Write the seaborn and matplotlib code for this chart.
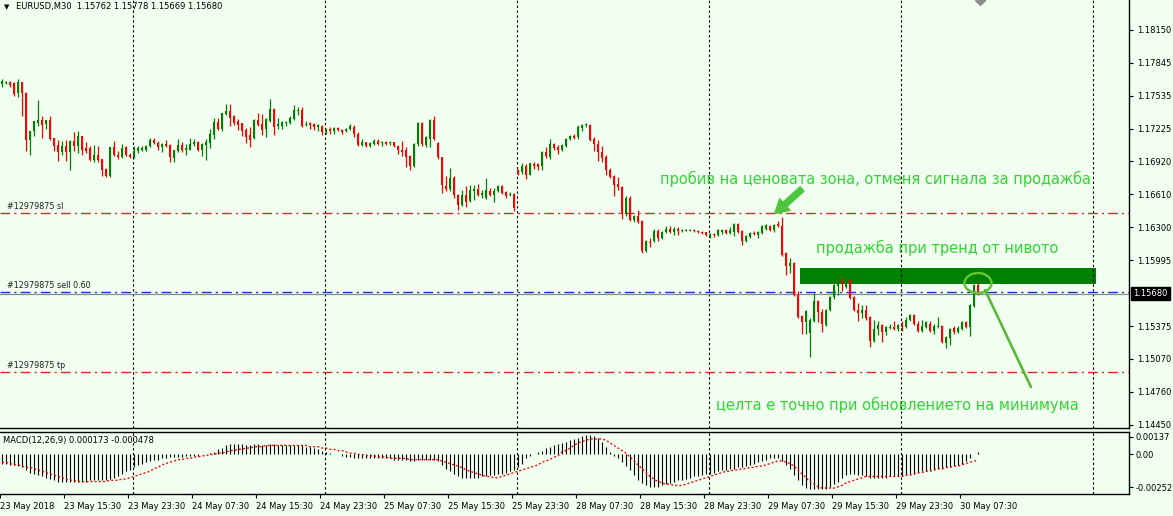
import numpy as np
import pandas as pd
import matplotlib
matplotlib.use("Agg")
import matplotlib.pyplot as plt
from matplotlib.patches import Rectangle, Ellipse
import seaborn as sns

# EURUSD M30, bars from 23 May 2018 07:30 to 30 May 2018 09:30
opens = [
    1.1764, 1.1765, 1.1766, 1.1765, 1.1756, 1.1766, 1.1756, 1.1712, 1.1720, 1.1728,
    1.1731, 1.1727, 1.1731, 1.1714, 1.1707, 1.1701, 1.1706, 1.1701, 1.1711, 1.1706,
    1.1716, 1.1704, 1.1704, 1.1693, 1.1698, 1.1694, 1.1685, 1.1678, 1.1705, 1.1698,
    1.1696, 1.1705, 1.1698, 1.1696, 1.1702, 1.1703, 1.1703, 1.1706, 1.1712, 1.1709,
    1.1705, 1.1708, 1.1707, 1.1695, 1.1702, 1.1707, 1.1703, 1.1703, 1.1708, 1.1710,
    1.1703, 1.1707, 1.1709, 1.1717, 1.1729, 1.1722, 1.1736, 1.1739, 1.1734, 1.1730,
    1.1728, 1.1721, 1.1717, 1.1714, 1.1731, 1.1727, 1.1722, 1.1730, 1.1741, 1.1725,
    1.1725, 1.1728, 1.1728, 1.1732, 1.1739, 1.1740, 1.1726, 1.1728, 1.1727, 1.1724,
    1.1725, 1.1719, 1.1722, 1.1720, 1.1723, 1.1721, 1.1720, 1.1722, 1.1724, 1.1718,
    1.1707, 1.1710, 1.1706, 1.1708, 1.1711, 1.1709, 1.1710, 1.1709, 1.1710, 1.1706,
    1.1703, 1.1703, 1.1697, 1.1688, 1.1708, 1.1728, 1.1707, 1.1713, 1.1731, 1.1709,
    1.1696, 1.1669, 1.1666, 1.1676, 1.1660, 1.1651, 1.1660, 1.1655, 1.1664, 1.1666,
    1.1660, 1.1658, 1.1664, 1.1660, 1.1664, 1.1669, 1.1663, 1.1660, 1.1661, 1.1684,
    1.1682, 1.1688, 1.1679, 1.1689, 1.1689, 1.1688, 1.1701, 1.1696, 1.1708, 1.1705,
    1.1703, 1.1706, 1.1713, 1.1716, 1.1715, 1.1723, 1.1726, 1.1726, 1.1713, 1.1708,
    1.1701, 1.1696, 1.1684, 1.1678, 1.1671, 1.1668, 1.1643, 1.1658, 1.1637, 1.1641,
    1.1636, 1.1608, 1.1616, 1.1617, 1.1627, 1.1620, 1.1626, 1.1629, 1.1626, 1.1629,
    1.1627, 1.1627, 1.1627, 1.1628, 1.1627, 1.1626, 1.1626, 1.1623, 1.1624, 1.1623,
    1.1626, 1.1628, 1.1625, 1.1626, 1.1633, 1.1627, 1.1617, 1.1621, 1.1625, 1.1623,
    1.1625, 1.1629, 1.1631, 1.1628, 1.1633, 1.1631, 1.1606, 1.1594, 1.1597, 1.1567,
    1.1547, 1.1541, 1.1531, 1.1542, 1.1561, 1.1551, 1.1539, 1.1553, 1.1565, 1.1575,
    1.1582, 1.1574, 1.1581, 1.1565, 1.1553, 1.1550, 1.1553, 1.1546, 1.1524, 1.1535,
    1.1539, 1.1532, 1.1536, 1.1537, 1.1535, 1.1539, 1.1537, 1.1543, 1.1548, 1.1540,
    1.1533, 1.1537, 1.1540, 1.1533, 1.1537, 1.1538, 1.1522, 1.1526, 1.1536, 1.1532,
    1.1535, 1.1541, 1.1537, 1.1556, 1.15762,
]
highs = [
    1.1769, 1.1767, 1.1767, 1.1766, 1.1769, 1.1766, 1.1757, 1.1720, 1.1730, 1.1749,
    1.1734, 1.1731, 1.1734, 1.1714, 1.1712, 1.1711, 1.1712, 1.1712, 1.1719, 1.1720,
    1.1716, 1.1710, 1.1706, 1.1707, 1.1706, 1.1694, 1.1686, 1.1705, 1.1711, 1.1702,
    1.1708, 1.1706, 1.1700, 1.1706, 1.1706, 1.1706, 1.1707, 1.1714, 1.1714, 1.1711,
    1.1709, 1.1712, 1.1708, 1.1703, 1.1713, 1.1710, 1.1708, 1.1714, 1.1713, 1.1711,
    1.1709, 1.1713, 1.1722, 1.1733, 1.1733, 1.1737, 1.1746, 1.1746, 1.1735, 1.1732,
    1.1728, 1.1723, 1.1724, 1.1732, 1.1737, 1.1736, 1.1733, 1.1750, 1.1742, 1.1733,
    1.1730, 1.1730, 1.1734, 1.1745, 1.1743, 1.1743, 1.1730, 1.1729, 1.1728, 1.1727,
    1.1726, 1.1723, 1.1724, 1.1724, 1.1724, 1.1722, 1.1723, 1.1727, 1.1726, 1.1719,
    1.1713, 1.1710, 1.1710, 1.1713, 1.1713, 1.1711, 1.1711, 1.1711, 1.1710, 1.1707,
    1.1711, 1.1705, 1.1698, 1.1709, 1.1729, 1.1729, 1.1716, 1.1732, 1.1734, 1.1710,
    1.1696, 1.1678, 1.1686, 1.1678, 1.1661, 1.1665, 1.1669, 1.1670, 1.1670, 1.1671,
    1.1665, 1.1676, 1.1667, 1.1667, 1.1670, 1.1670, 1.1664, 1.1663, 1.1662, 1.1685,
    1.1690, 1.1689, 1.1690, 1.1691, 1.1690, 1.1702, 1.1705, 1.1713, 1.1709, 1.1707,
    1.1708, 1.1714, 1.1717, 1.1718, 1.1726, 1.1727, 1.1728, 1.1727, 1.1715, 1.1712,
    1.1706, 1.1698, 1.1686, 1.1679, 1.1677, 1.1669, 1.1659, 1.1659, 1.1642, 1.1646,
    1.1637, 1.1618, 1.1620, 1.1629, 1.1629, 1.1627, 1.1631, 1.1631, 1.1630, 1.1630,
    1.1629, 1.1629, 1.1629, 1.1629, 1.1628, 1.1627, 1.1626, 1.1625, 1.1625, 1.1629,
    1.1629, 1.1629, 1.1630, 1.1634, 1.1634, 1.1628, 1.1623, 1.1626, 1.1627, 1.1627,
    1.1632, 1.1633, 1.1632, 1.1633, 1.1636, 1.1640, 1.1607, 1.1601, 1.1598, 1.1570,
    1.1548, 1.1553, 1.1545, 1.1569, 1.1562, 1.1554, 1.1554, 1.1566, 1.1577, 1.1582,
    1.1583, 1.1579, 1.1582, 1.1566, 1.1559, 1.1557, 1.1557, 1.1547, 1.1543, 1.1542,
    1.1540, 1.1538, 1.1540, 1.1542, 1.1540, 1.1542, 1.1546, 1.1549, 1.1549, 1.1542,
    1.1543, 1.1542, 1.1542, 1.1540, 1.1546, 1.1539, 1.1528, 1.1536, 1.1538, 1.1538,
    1.1542, 1.1542, 1.1558, 1.1577, 1.15778,
]
lows = [
    1.1762, 1.1764, 1.1762, 1.1753, 1.1752, 1.1734, 1.1702, 1.1698, 1.1716, 1.1725,
    1.1714, 1.1722, 1.1712, 1.1702, 1.1692, 1.1698, 1.1692, 1.1684, 1.1702, 1.1700,
    1.1698, 1.1700, 1.1692, 1.1691, 1.1691, 1.1678, 1.1677, 1.1677, 1.1697, 1.1694,
    1.1695, 1.1697, 1.1695, 1.1695, 1.1700, 1.1702, 1.1702, 1.1705, 1.1708, 1.1703,
    1.1701, 1.1705, 1.1691, 1.1691, 1.1701, 1.1701, 1.1698, 1.1703, 1.1706, 1.1702,
    1.1697, 1.1693, 1.1704, 1.1713, 1.1721, 1.1720, 1.1735, 1.1725, 1.1726, 1.1721,
    1.1716, 1.1709, 1.1705, 1.1713, 1.1725, 1.1717, 1.1715, 1.1729, 1.1717, 1.1722,
    1.1722, 1.1725, 1.1727, 1.1731, 1.1735, 1.1724, 1.1725, 1.1722, 1.1721, 1.1720,
    1.1717, 1.1718, 1.1718, 1.1718, 1.1720, 1.1718, 1.1719, 1.1721, 1.1715, 1.1706,
    1.1706, 1.1705, 1.1705, 1.1707, 1.1707, 1.1706, 1.1707, 1.1707, 1.1705, 1.1699,
    1.1697, 1.1687, 1.1684, 1.1687, 1.1706, 1.1706, 1.1705, 1.1705, 1.1712, 1.1694,
    1.1662, 1.1664, 1.1664, 1.1658, 1.1646, 1.1650, 1.1649, 1.1654, 1.1656, 1.1659,
    1.1658, 1.1657, 1.1659, 1.1654, 1.1663, 1.1661, 1.1658, 1.1659, 1.1645, 1.1679,
    1.1680, 1.1675, 1.1679, 1.1685, 1.1684, 1.1684, 1.1695, 1.1694, 1.1703, 1.1699,
    1.1702, 1.1705, 1.1712, 1.1713, 1.1713, 1.1720, 1.1724, 1.1711, 1.1702, 1.1692,
    1.1691, 1.1679, 1.1676, 1.1659, 1.1665, 1.1638, 1.1641, 1.1636, 1.1635, 1.1634,
    1.1606, 1.1607, 1.1612, 1.1616, 1.1617, 1.1619, 1.1625, 1.1625, 1.1623, 1.1623,
    1.1626, 1.1627, 1.1627, 1.1626, 1.1625, 1.1624, 1.1622, 1.1620, 1.1621, 1.1622,
    1.1624, 1.1624, 1.1624, 1.1622, 1.1625, 1.1614, 1.1616, 1.1620, 1.1623, 1.1620,
    1.1624, 1.1628, 1.1627, 1.1626, 1.1630, 1.1603, 1.1585, 1.1587, 1.1566, 1.1545,
    1.1530, 1.1530, 1.1509, 1.1541, 1.1541, 1.1532, 1.1538, 1.1552, 1.1563, 1.1567,
    1.1570, 1.1573, 1.1563, 1.1552, 1.1542, 1.1545, 1.1543, 1.1518, 1.1523, 1.1529,
    1.1523, 1.1529, 1.1535, 1.1534, 1.1533, 1.1533, 1.1536, 1.1542, 1.1539, 1.1532,
    1.1532, 1.1536, 1.1532, 1.1530, 1.1536, 1.1522, 1.1517, 1.1520, 1.1530, 1.1531,
    1.1534, 1.1536, 1.1528, 1.1555, 1.15669,
]
closes = [
    1.1767, 1.1766, 1.1763, 1.1755, 1.1766, 1.1756, 1.1712, 1.1720, 1.1730, 1.1731,
    1.1726, 1.1731, 1.1713, 1.1706, 1.1701, 1.1706, 1.1701, 1.1711, 1.1706, 1.1716,
    1.1703, 1.1702, 1.1693, 1.1698, 1.1693, 1.1684, 1.1678, 1.1705, 1.1698, 1.1696,
    1.1704, 1.1698, 1.1696, 1.1702, 1.1704, 1.1704, 1.1706, 1.1712, 1.1709, 1.1705,
    1.1708, 1.1706, 1.1696, 1.1703, 1.1707, 1.1703, 1.1704, 1.1708, 1.1710, 1.1703,
    1.1708, 1.1710, 1.1718, 1.1729, 1.1722, 1.1737, 1.1739, 1.1733, 1.1728, 1.1726,
    1.1720, 1.1715, 1.1712, 1.1731, 1.1726, 1.1721, 1.1732, 1.1741, 1.1724, 1.1727,
    1.1729, 1.1729, 1.1733, 1.1740, 1.1740, 1.1725, 1.1727, 1.1726, 1.1724, 1.1726,
    1.1719, 1.1722, 1.1720, 1.1723, 1.1721, 1.1719, 1.1722, 1.1725, 1.1718, 1.1707,
    1.1710, 1.1706, 1.1709, 1.1711, 1.1708, 1.1710, 1.1708, 1.1710, 1.1706, 1.1703,
    1.1701, 1.1696, 1.1688, 1.1708, 1.1728, 1.1708, 1.1715, 1.1731, 1.1713, 1.1696,
    1.1670, 1.1666, 1.1676, 1.1660, 1.1651, 1.1660, 1.1654, 1.1665, 1.1666, 1.1660,
    1.1662, 1.1665, 1.1660, 1.1664, 1.1669, 1.1662, 1.1659, 1.1661, 1.1648, 1.1680,
    1.1688, 1.1679, 1.1690, 1.1688, 1.1687, 1.1701, 1.1697, 1.1708, 1.1704, 1.1703,
    1.1707, 1.1713, 1.1716, 1.1714, 1.1724, 1.1726, 1.1727, 1.1712, 1.1708, 1.1701,
    1.1695, 1.1684, 1.1677, 1.1670, 1.1668, 1.1643, 1.1658, 1.1637, 1.1641, 1.1635,
    1.1608, 1.1617, 1.1615, 1.1627, 1.1620, 1.1626, 1.1629, 1.1626, 1.1629, 1.1627,
    1.1628, 1.1628, 1.1628, 1.1627, 1.1626, 1.1625, 1.1623, 1.1624, 1.1623, 1.1628,
    1.1628, 1.1625, 1.1628, 1.1633, 1.1626, 1.1617, 1.1622, 1.1625, 1.1624, 1.1626,
    1.1631, 1.1632, 1.1628, 1.1632, 1.1631, 1.1604, 1.1594, 1.1597, 1.1567, 1.1546,
    1.1541, 1.1552, 1.1543, 1.1561, 1.1551, 1.1540, 1.1553, 1.1565, 1.1576, 1.1579,
    1.1578, 1.1577, 1.1564, 1.1553, 1.1550, 1.1553, 1.1545, 1.1524, 1.1535, 1.1539,
    1.1532, 1.1537, 1.1537, 1.1535, 1.1539, 1.1537, 1.1543, 1.1548, 1.1540, 1.1533,
    1.1538, 1.1541, 1.1533, 1.1538, 1.1538, 1.1523, 1.1527, 1.1535, 1.1532, 1.1536,
    1.1541, 1.1537, 1.1557, 1.1576, 1.15680,
]

# MACD(12,26,9) main (histogram) and signal, in units of 0.0001
macd_main_e4 = [
    -7, -7, -8, -8, -9, -10, -12, -14, -15, -16,
    -17, -18, -19, -20, -21, -21, -21, -21, -21, -21,
    -21, -21, -20, -20, -20, -20, -20, -19, -18, -17,
    -15, -13, -12, -10, -8, -7, -6, -5, -4, -4,
    -3, -3, -2, -2, -2, -2, -1, -1, -1, -1,
    0, 0, 1, 2, 4, 5, 7, 8, 8, 8,
    8, 7, 7, 8, 8, 7, 7, 8, 8, 7,
    7, 7, 7, 7, 7, 7, 6, 6, 5, 4,
    3, 2, 1, 0, 0, -1, -2, -2, -3, -3,
    -3, -3, -3, -3, -3, -3, -3, -3, -4, -4,
    -4, -4, -5, -5, -4, -4, -4, -4, -4, -5,
    -8, -11, -13, -15, -17, -18, -18, -18, -18, -18,
    -17, -17, -16, -16, -15, -15, -14, -13, -12, -10,
    -7, -3, -1, 0, 2, 3, 5, 6, 7, 8,
    9, 10, 11, 12, 13, 14, 15, 15, 14, 13,
    10, 6, 2, -1, -3, -6, -9, -12, -16, -20,
    -22, -24, -25, -25, -25, -24, -23, -22, -21, -20,
    -20, -19, -18, -17, -17, -16, -15, -15, -14, -13,
    -12, -12, -11, -11, -10, -10, -9, -8, -7, -6,
    -5, -4, -3, -3, -3, -5, -8, -11, -16, -20,
    -24, -26, -27, -27, -27, -27, -27, -25, -23, -21,
    -18, -16, -15, -15, -16, -16, -17, -18, -18, -18,
    -18, -18, -17, -17, -17, -17, -16, -15, -15, -14,
    -13, -13, -12, -12, -11, -11, -10, -10, -9, -8,
    -7, -5, -3, 0, 2,
]
macd_signal_e4 = [
    -6, -6, -7, -8, -8, -9, -10, -10, -11, -12,
    -13, -14, -15, -16, -17, -18, -19, -20, -20, -21,
    -21, -21, -21, -21, -21, -21, -21, -20, -20, -20,
    -19, -19, -18, -17, -16, -15, -14, -13, -11, -10,
    -8, -7, -6, -5, -4, -4, -3, -3, -2, -2,
    -1, -1, 0, 0, 1, 1, 2, 3, 3, 4,
    4, 5, 5, 6, 6, 6, 7, 7, 7, 7,
    7, 7, 7, 7, 7, 7, 7, 6, 6, 6,
    5, 5, 4, 4, 3, 3, 2, 1, 1, 0,
    0, -1, -1, -1, -2, -2, -2, -3, -3, -3,
    -3, -3, -4, -4, -4, -4, -4, -4, -4, -4,
    -5, -6, -7, -8, -9, -10, -12, -13, -14, -15,
    -16, -17, -17, -18, -18, -17, -16, -15, -14, -13,
    -12, -11, -10, -9, -8, -6, -5, -4, -2, -1,
    2, 3, 5, 7, 9, 10, 11, 12, 12, 12,
    12, 11, 9, 7, 5, 3, 1, -2, -5, -8,
    -11, -14, -17, -19, -21, -22, -23, -23, -24, -24,
    -24, -23, -22, -21, -20, -19, -18, -17, -16, -15,
    -14, -13, -13, -12, -12, -11, -11, -10, -10, -9,
    -9, -8, -7, -6, -5, -5, -6, -7, -9, -12,
    -15, -18, -21, -23, -25, -26, -26, -26, -26, -25,
    -24, -22, -21, -20, -19, -18, -17, -17, -17, -17,
    -17, -17, -17, -17, -17, -17, -16, -16, -15, -14,
    -14, -13, -13, -12, -11, -11, -10, -10, -9, -9,
    -8, -7, -6, -5, -5,
]

label_bars = [0, 16, 32, 48, 64, 80, 96, 112, 128, 144, 160, 176, 192, 208, 224, 240]
time_labels = ["23 May 2018", "23 May 15:30", "23 May 23:30", "24 May 07:30",
               "24 May 15:30", "24 May 23:30", "25 May 07:30", "25 May 15:30",
               "25 May 23:30", "28 May 07:30", "28 May 15:30", "28 May 23:30",
               "29 May 07:30", "29 May 15:30", "29 May 23:30", "30 May 07:30"]
grid_bars = [32.75, 80.75, 128.75, 176.75, 224.75, 272.75]

price_ticks = [1.18150, 1.17845, 1.17535, 1.17225, 1.16920, 1.16610, 1.16300,
               1.15995, 1.15375, 1.15070, 1.14760, 1.14450]
macd_ticks = [0.00137, 0.0, -0.002521]
macd_tick_labels = ["0.00137", "0.00", "-0.002521"]

order_id = "#12979875"
sl_price = 1.16435
sell_price = 1.15692
tp_price = 1.14945
bid_price = 1.15680

BG = "#F0FFF0"
GREEN = "#008000"
RED = "#FF0000"
NOTE = "#33D433"
W, H = 1173, 516

sns.set_style("white")
plt.rcParams["font.family"] = ["DejaVu Sans"]

df = pd.DataFrame({"open": opens, "high": highs, "low": lows, "close": closes})
df["bar"] = np.arange(len(df))
df["up"] = df["close"] >= df["open"]
colors = np.where(df["up"], GREEN, RED)

fig = plt.figure(figsize=(W / 100, H / 100), dpi=100, facecolor=BG)
ax = fig.add_axes([0, 1 - 428 / H, 1129 / W, 428 / H], facecolor=BG)
ax2 = fig.add_axes([0, 1 - 494 / H, 1129 / W, 62 / H], facecolor=BG)

xlim = (-0.5, 281.75)
for a in (ax, ax2):
    a.set_xlim(*xlim)
    for x in grid_bars:
        a.axvline(x, color="black", lw=0.8, dashes=(2.2, 2.2), zorder=1)
    for s in a.spines.values():
        s.set_color("black")
        s.set_linewidth(1)
    a.spines["left"].set_visible(False)
ax.spines["top"].set_visible(False)
ax.set_ylim(1.14421, 1.18431)

# sell signal zone and order levels
ax.add_patch(Rectangle((199.5, 1.15770), 74, 0.00150, color=GREEN, lw=0, zorder=0.5))
ax.axhline(sl_price, color="#D42A2A", lw=1, dashes=(7, 3, 1.5, 3), zorder=1.5)
ax.axhline(tp_price, color="#D42A2A", lw=1, dashes=(7, 3, 1.5, 3), zorder=1.5)
ax.axhline(sell_price, color="#1E2FD0", lw=1, dashes=(7, 3, 1.5, 3), zorder=1.5)
ax.axhline(bid_price, color="#8C8C8C", lw=0.9, zorder=1.4)
for price, tag in [(sl_price, "sl"), (sell_price, "sell 0.60"), (tp_price, "tp")]:
    ax.text(1.3, price + 0.00022, f"{order_id} {tag}", fontsize=5.8,
            color="#202020", va="bottom", ha="left")

# candles
ax.vlines(df["bar"], df["low"], df["high"], colors=colors, lw=0.9, zorder=3)
body = (df["close"] - df["open"]).abs().clip(lower=0.00007)
ax.bar(df["bar"], body, bottom=df[["open", "close"]].min(axis=1), width=0.72,
       color=colors, linewidth=0, zorder=3.2)

ax.plot([244.5], [1.18431], marker="D", ms=5.5, color="#8C8C8C", clip_on=True, zorder=4)

ax.yaxis.tick_right()
ax.set_yticks(price_ticks)
ax.set_yticklabels([f"{p:.5f}" for p in price_ticks])
ax.tick_params(axis="y", direction="out", length=3, width=0.8, pad=3,
               labelsize=6, colors="black", right=True)
ax.tick_params(axis="x", bottom=False, labelbottom=False)
ax.set_xticks([])
ax.annotate(f"{bid_price:.5f}", xy=(1.0, bid_price), xycoords=("axes fraction", "data"),
            xytext=(3.2, 0), textcoords="offset points", va="center", ha="left",
            fontsize=6, color="white", annotation_clip=False,
            bbox=dict(boxstyle="square,pad=0.28", fc="black", ec="black"))

# annotations
ax.text(164.5, 1.16754, "пробив на ценовата зона, отменя сигнала за продажба",
        fontsize=10.5, color=NOTE, va="center", ha="left", zorder=6)
ax.text(203.5, 1.16108, "продажба при тренд от нивото",
        fontsize=10.5, color=NOTE, va="center", ha="left", zorder=6)
ax.text(178.5, 1.14636, "целта е точно при обновлението на минимума",
        fontsize=10.5, color=NOTE, va="center", ha="left", zorder=6)
ax.annotate("", xy=(193.2, 1.16430), xytext=(200.0, 1.16660),
            arrowprops=dict(arrowstyle="simple,head_length=0.65,head_width=0.75,tail_width=0.28",
                            color="#4CC63C", mutation_scale=15, shrinkA=0, shrinkB=0),
            zorder=6)
ax.add_patch(Ellipse((244, 1.15779), 6.75, 0.00187, fill=False, ec="#62C232", lw=1.8, zorder=6))
ax.plot([245.75, 257.25], [1.15714, 1.14805], color="#55B82E", lw=1.8, zorder=6)

# MACD panel
macd_df = pd.DataFrame({"bar": np.arange(len(macd_main_e4)),
                        "main": np.array(macd_main_e4) * 1e-4,
                        "signal": np.array(macd_signal_e4) * 1e-4})
ax2.vlines(macd_df["bar"], 0, macd_df["main"], colors="black", lw=0.8, zorder=3)
sns.lineplot(data=macd_df, x="bar", y="signal", ax=ax2, color=RED, lw=1, zorder=4)
ax2.lines[-1].set_dashes((1.4, 1.6))
ax2.set_ylim(-0.00306, 0.00174)
ax2.set_xlim(*xlim)
ax2.set_xlabel("")
ax2.set_ylabel("")
ax2.yaxis.tick_right()
ax2.set_yticks(macd_ticks)
ax2.set_yticklabels(macd_tick_labels)
ax2.tick_params(axis="y", direction="out", length=3, width=0.8, pad=2,
                labelsize=6, colors="black", right=True)
ax2.set_xticks([b - 0.5 for b in label_bars])
ax2.set_xticklabels(time_labels)
for lbl in ax2.get_xticklabels():
    lbl.set_ha("left")
ax2.tick_params(axis="x", direction="out", length=3, width=0.8, pad=3,
                labelsize=6, colors="black", bottom=True)
ax2.text(0.003, 0.87, "MACD(12,26,9) 0.000173 -0.000478", transform=ax2.transAxes,
         fontsize=6, va="center", ha="left", color="black")

# header
fig.text(4 / W, 1 - 7 / H, "\u25bc", fontsize=5, va="center", ha="left", color="black")
fig.text(16 / W, 1 - 7 / H, "EURUSD,M30  1.15762 1.15778 1.15669 1.15680",
         fontsize=6, va="center", ha="left", color="black")

fig.savefig("out.png", dpi=100, facecolor=BG)
